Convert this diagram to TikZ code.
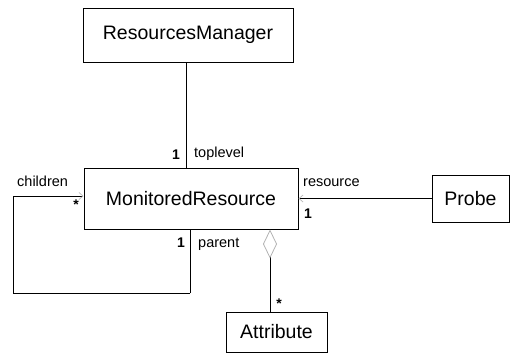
\documentclass[tikz,border=0pt]{standalone}
\usepackage{fontspec}
\setmainfont{Liberation Sans}
\usetikzlibrary{arrows.meta}
\tikzset{
  cls/.style={draw, line width=1pt, inner sep=0pt, font=\fontsize{19.5}{22}\selectfont},
  role/.style={inner sep=0pt, font=\fontsize{14.5}{16}\selectfont},
  mult/.style={inner sep=0pt, font=\fontsize{14}{16}\selectfont\bfseries},
  assoc/.style={line width=1pt},
  nav/.style={-{Straight Barb[length=4pt,width=7pt,color=gray!55,line width=0.7pt]}},
  agg/.style={-{Diamond[open,length=29pt,width=14pt,color=gray!60,line width=0.8pt]}}
}
\begin{document}
\begin{tikzpicture}[x=1pt,y=-1pt]
\useasboundingbox (0,0) rectangle (511,354);
\node[cls, minimum width=210pt, minimum height=54pt] (RM) at (188,35) {ResourcesManager};
\node[cls, minimum width=214pt, minimum height=61pt] (MR) at (191,198.5) {MonitoredResource};
\node[cls, minimum width=77pt, minimum height=47pt] (P) at (470.5,198.5) {Probe};
\node[cls, minimum width=101pt, minimum height=40pt] (A) at (276.5,332) {Attribute};

\coordinate (tl) at (186,0);
\coordinate (agx) at (270,0);
\coordinate (chy) at (0,196);
\coordinate (c1) at (13,196);
\coordinate (c2) at (13,293);
\coordinate (c3) at (190,293);

\draw[assoc] (RM.south -| tl) -- (MR.north -| tl);
\draw[assoc, nav] (P.west) -- (MR.east);
\draw[assoc, nav] (c3) -- (c2) -- (c1) -- (MR.west |- chy);
\draw[assoc] (c3) -- (MR.south -| c3);
\draw[assoc, agg] (A.north -| agx) -- (MR.south -| agx);

\node[role, anchor=base west] (lt) at (194,157) {toplevel};
\node[mult, anchor=base east] (m1) at (180,159) {1};
\node[role, anchor=base west] (lc) at (17,186) {children};
\node[mult, anchor=base] (m2) at (76,209) {*};
\node[role, anchor=base west] (lr) at (303,186) {resource};
\node[mult, anchor=base west] (m3) at (304,218) {1};
\node[mult, anchor=base east] (m4) at (185,247) {1};
\node[role, anchor=base west] (lp) at (198,247) {parent};
\node[mult, anchor=base] (m5) at (279,308) {*};
\end{tikzpicture}
\end{document}
